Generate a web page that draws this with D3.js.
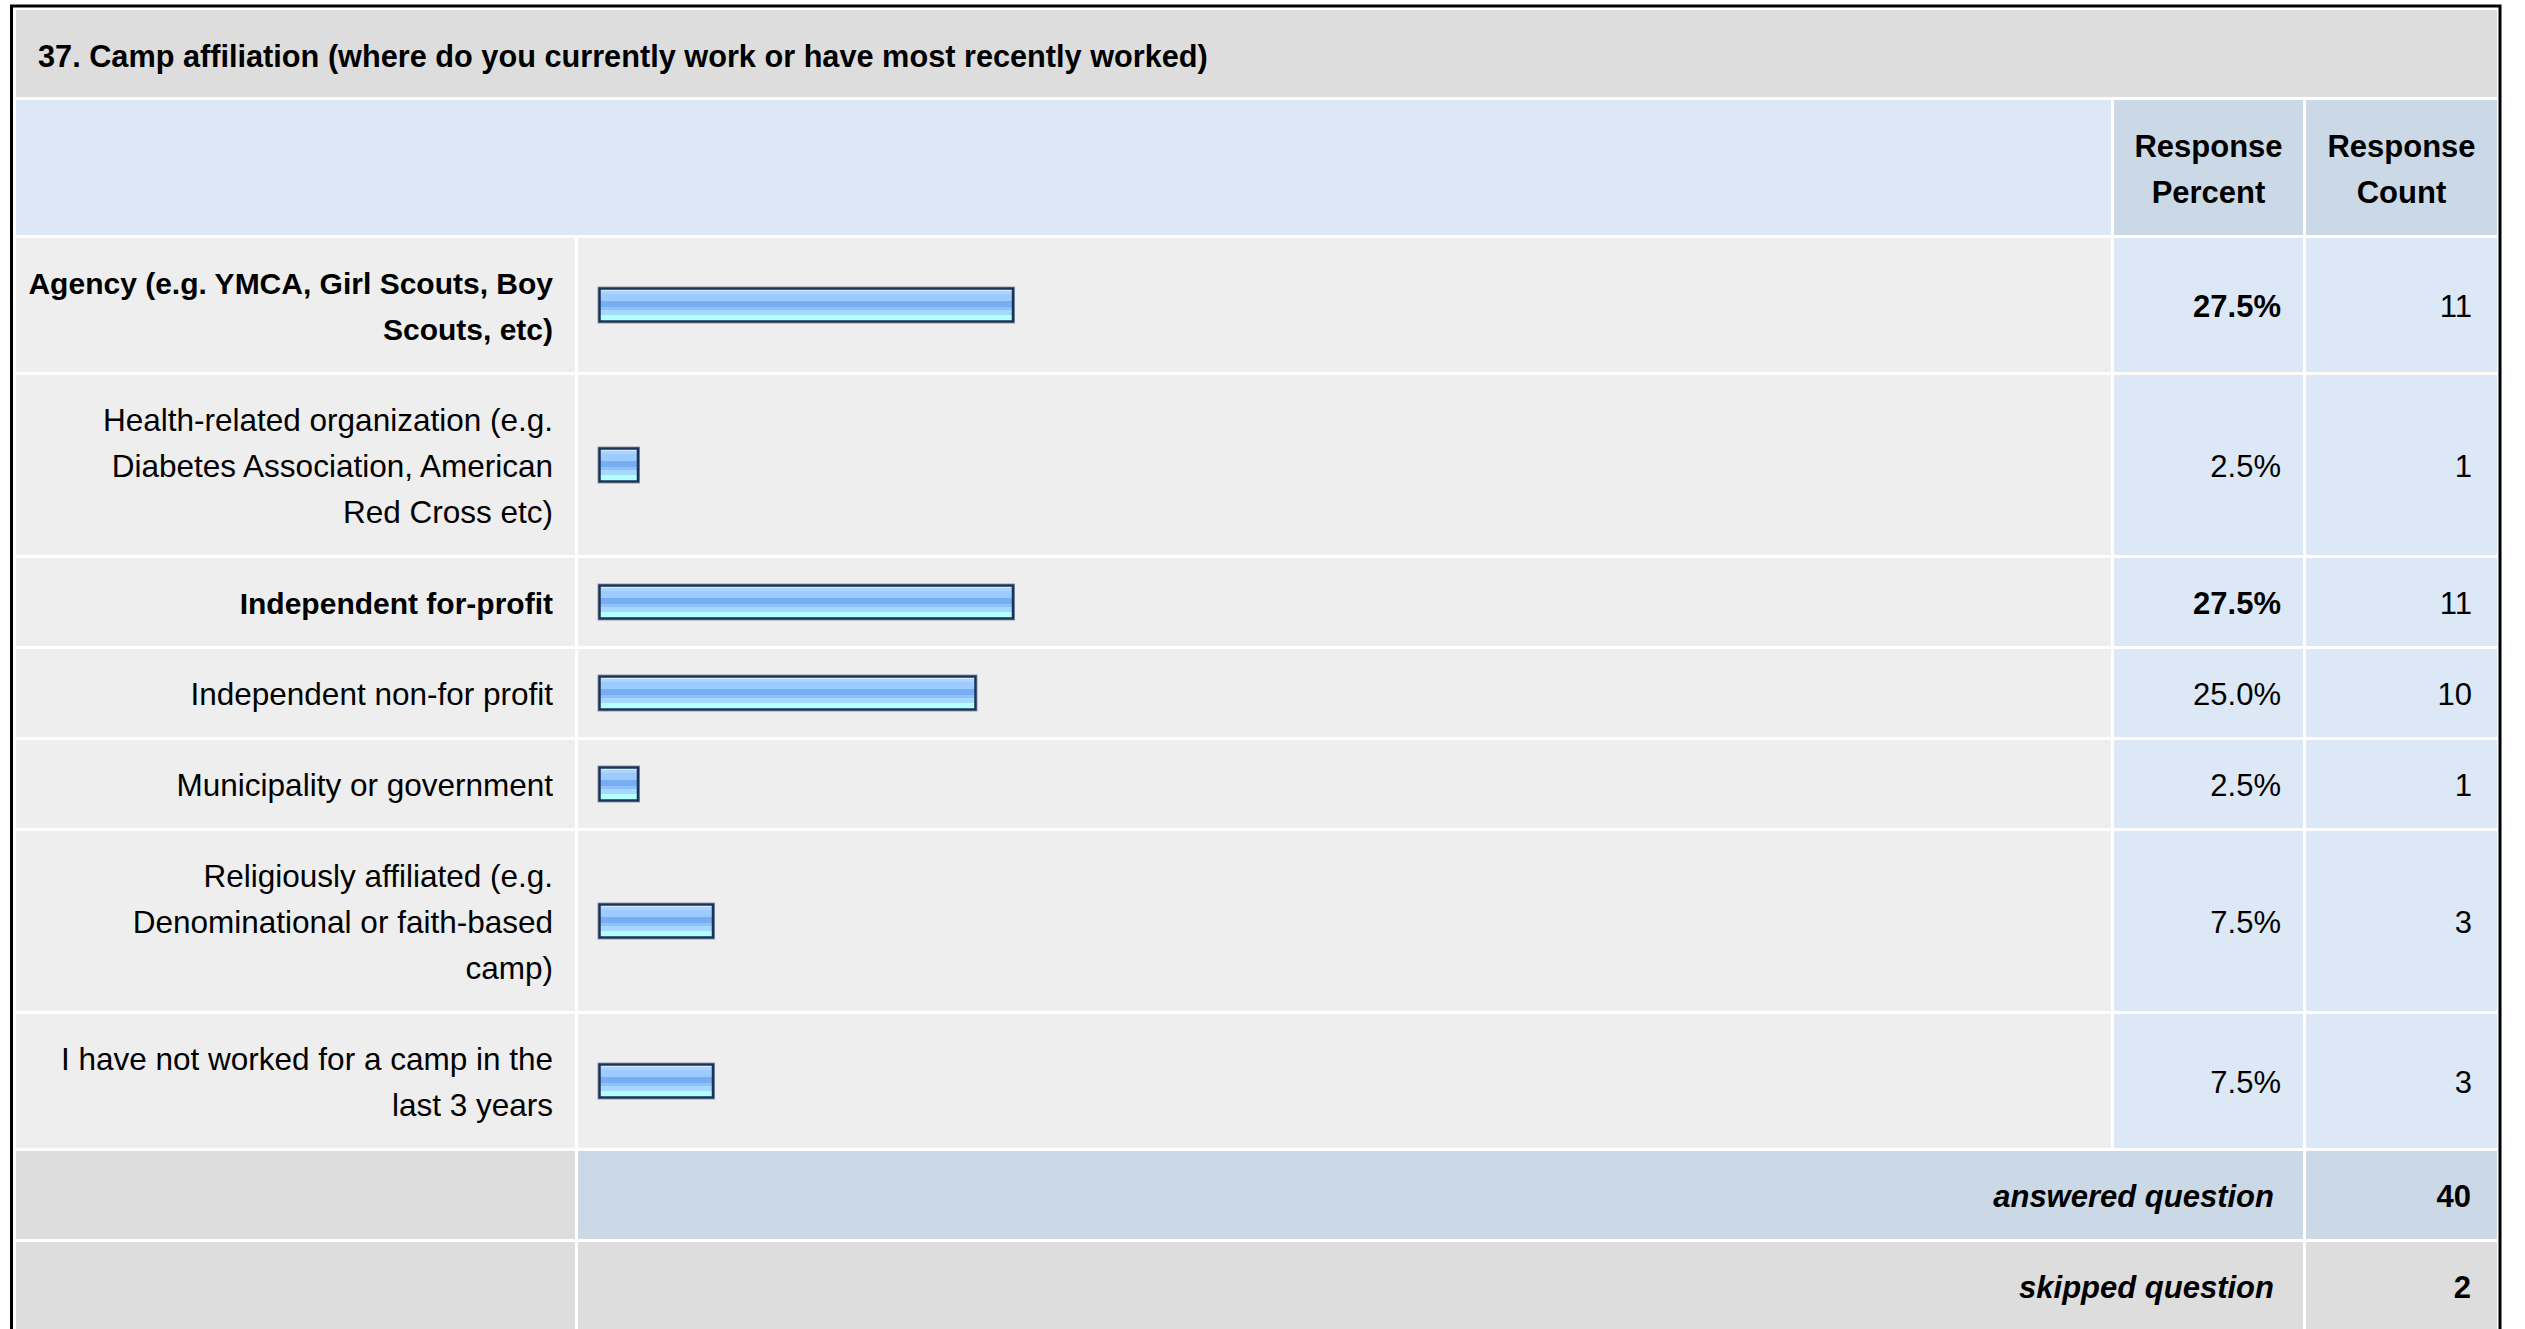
<!DOCTYPE html>
<html>
<head>
<meta charset="utf-8">
<script src="https://cdn.jsdelivr.net/npm/d3@7"></script>
<style>
	body { margin: 0; background: #fff; }
	svg text { font-family: "Liberation Sans", Arial, Helvetica, sans-serif; fill: #000; }
</style>
</head>
<body>
<div id="chart"></div>
<script>

var title = "37. Camp affiliation (where do you currently work or have most recently worked)";

var headerLabels = [["Response", "Percent"], ["Response", "Count"]];

var categories = [
	["Agency (e.g. YMCA, Girl Scouts, Boy", "Scouts, etc)"],
	["Health-related organization (e.g.", "Diabetes Association, American", "Red Cross etc)"],
	["Independent for-profit"],
	["Independent non-for profit"],
	["Municipality or government"],
	["Religiously affiliated (e.g.", "Denominational or faith-based", "camp)"],
	["I have not worked for a camp in the", "last 3 years"]
];

var percents = [27.5, 2.5, 27.5, 25.0, 2.5, 7.5, 7.5];

var counts = [11, 1, 11, 10, 1, 3, 3];

var summaryLabels = ["answered question", "skipped question"];

var summaryCounts = [40, 2];

var width = 2525, height = 1329;

// column edges (cells are separated by thin white gaps)
var col = {
	labelX0: 16, labelX1: 575,
	barX0: 578, barX1: 2111,
	pctX0: 2114, pctX1: 2303,
	cntX0: 2306, cntX1: 2497
};

var lineH = 46, padV = 21, gap = 3, fontSize = 31;

var svg = d3.select("#chart").append("svg")
	.attr("width", width)
	.attr("height", height);

// bar gradient
var grad = svg.append("defs").append("linearGradient")
	.attr("id", "barGrad")
	.attr("x1", 0).attr("y1", 0).attr("x2", 0).attr("y2", 1);

[
	[0.00, "#d2e9ff"], [0.07, "#d2e9ff"],
	[0.07, "#a9d5ff"], [0.16, "#a9d5ff"],
	[0.16, "#9ccbff"], [0.37, "#9ccbff"],
	[0.37, "#76adf3"], [0.55, "#76adf3"],
	[0.55, "#8ec1fb"], [0.65, "#8ec1fb"],
	[0.65, "#a4d8ff"], [0.81, "#a4d8ff"],
	[0.81, "#b4ffff"], [1.00, "#b4ffff"]
].forEach(function(s) {
	grad.append("stop").attr("offset", s[0]).attr("stop-color", s[1]);
});

// title band
svg.append("rect")
	.attr("x", col.labelX0).attr("y", 10)
	.attr("width", col.cntX1 - col.labelX0).attr("height", 87)
	.attr("fill", "#dddddd");

svg.append("text")
	.attr("x", 38).attr("y", 67)
	.attr("font-size", 30.7)
	.attr("font-weight", "bold")
	.text(title);

// header band
var headerY0 = 100, headerY1 = 235;

svg.append("rect")
	.attr("x", col.labelX0).attr("y", headerY0)
	.attr("width", col.barX1 - col.labelX0).attr("height", headerY1 - headerY0)
	.attr("fill", "#dce8f5");

var headerCols = [[col.pctX0, col.pctX1], [col.cntX0, col.cntX1]];

headerCols.forEach(function(c, i) {
	svg.append("rect")
		.attr("x", c[0]).attr("y", headerY0)
		.attr("width", c[1] - c[0]).attr("height", headerY1 - headerY0)
		.attr("fill", "#cbd8e6");
	var cy = (headerY0 + headerY1) / 2;
	headerLabels[i].forEach(function(t, j) {
		svg.append("text")
			.attr("x", (c[0] + c[1]) / 2)
			.attr("y", cy + (j - (headerLabels[i].length - 1) / 2) * lineH + 12)
			.attr("text-anchor", "middle")
			.attr("font-size", fontSize)
			.attr("font-weight", "bold")
			.text(t);
	});
});

// rows
var data = categories.map(function(c, i) {
	return { lines: c, pct: percents[i], count: counts[i] };
});

var y0 = headerY1 + gap;
data.forEach(function(d) {
	d.y0 = y0;
	d.h = d.lines.length * lineH + padV * 2;
	d.cy = d.y0 + d.h / 2;
	y0 += d.h + gap;
});

var maxPct = d3.max(percents);

var x = d3.scaleLinear()
	.domain([0, 100])
	.range([602, 2102]);

var rows = svg.selectAll("g.row")
	.data(data)
	.enter()
	.append("g")
	.attr("class", "row");

rows.append("rect")
	.attr("x", col.labelX0).attr("y", function(d) { return d.y0; })
	.attr("width", col.labelX1 - col.labelX0).attr("height", function(d) { return d.h; })
	.attr("fill", "#eeeeee");

rows.append("rect")
	.attr("x", col.barX0).attr("y", function(d) { return d.y0; })
	.attr("width", col.barX1 - col.barX0).attr("height", function(d) { return d.h; })
	.attr("fill", "#eeeeee");

rows.append("rect")
	.attr("x", col.pctX0).attr("y", function(d) { return d.y0; })
	.attr("width", col.pctX1 - col.pctX0).attr("height", function(d) { return d.h; })
	.attr("fill", "#dce8f5");

rows.append("rect")
	.attr("x", col.cntX0).attr("y", function(d) { return d.y0; })
	.attr("width", col.cntX1 - col.cntX0).attr("height", function(d) { return d.h; })
	.attr("fill", "#dce8f5");

rows.each(function(d) {
	var g = d3.select(this);
	var bold = d.pct === maxPct;
	d.lines.forEach(function(t, j) {
		g.append("text")
			.attr("x", 553)
			.attr("y", d.cy + (j - (d.lines.length - 1) / 2) * lineH + 12)
			.attr("text-anchor", "end")
			.attr("font-size", bold ? 30 : 31.5)
			.attr("font-weight", bold ? "bold" : "normal")
			.text(t);
	});
	g.append("text")
		.attr("x", 2281)
		.attr("y", d.cy + 12)
		.attr("text-anchor", "end")
		.attr("font-size", fontSize)
		.attr("font-weight", bold ? "bold" : "normal")
		.text(d3.format(".1f")(d.pct) + "%");
	g.append("text")
		.attr("x", 2472)
		.attr("y", d.cy + 12)
		.attr("text-anchor", "end")
		.attr("font-size", fontSize)
		.text(d.count);
});

// bars
rows.append("rect")
	.attr("x", 598)
	.attr("y", function(d) { return d.cy - 18; })
	.attr("width", function(d) { return x(d.pct) - 598; })
	.attr("height", 36)
	.attr("fill", "none")
	.attr("stroke", "#8d9bb0")
	.attr("stroke-width", 1);

rows.append("rect")
	.attr("x", 599.5)
	.attr("y", function(d) { return d.cy - 16.5; })
	.attr("width", function(d) { return x(d.pct) - 601; })
	.attr("height", 33)
	.attr("fill", "url(#barGrad)")
	.attr("stroke", "#1c3357")
	.attr("stroke-width", 2.5);

// summary rows
var summaryFill = [["#dddddd", "#cbd8e6", "#cbd8e6"], ["#dddddd", "#dddddd", "#dddddd"]];

summaryLabels.forEach(function(lbl, i) {
	var sy = y0;
	var sh = lineH + padV * 2;
	var cy = sy + sh / 2;
	svg.append("rect")
		.attr("x", col.labelX0).attr("y", sy)
		.attr("width", col.labelX1 - col.labelX0).attr("height", sh)
		.attr("fill", summaryFill[i][0]);
	svg.append("rect")
		.attr("x", col.barX0).attr("y", sy)
		.attr("width", col.pctX1 - col.barX0).attr("height", sh)
		.attr("fill", summaryFill[i][1]);
	svg.append("rect")
		.attr("x", col.cntX0).attr("y", sy)
		.attr("width", col.cntX1 - col.cntX0).attr("height", sh)
		.attr("fill", summaryFill[i][2]);
	svg.append("text")
		.attr("x", 2274)
		.attr("y", cy + 12)
		.attr("text-anchor", "end")
		.attr("font-size", fontSize)
		.attr("font-weight", "bold")
		.attr("font-style", "italic")
		.text(lbl);
	svg.append("text")
		.attr("x", 2471)
		.attr("y", cy + 12)
		.attr("text-anchor", "end")
		.attr("font-size", fontSize)
		.attr("font-weight", "bold")
		.text(summaryCounts[i]);
	y0 += sh + gap;
});

// outer frame
svg.append("rect")
	.attr("x", 11.5).attr("y", 6)
	.attr("width", 2488.5).attr("height", 1400)
	.attr("fill", "none")
	.attr("stroke", "#000")
	.attr("stroke-width", 3);

</script>
</body>
</html>
